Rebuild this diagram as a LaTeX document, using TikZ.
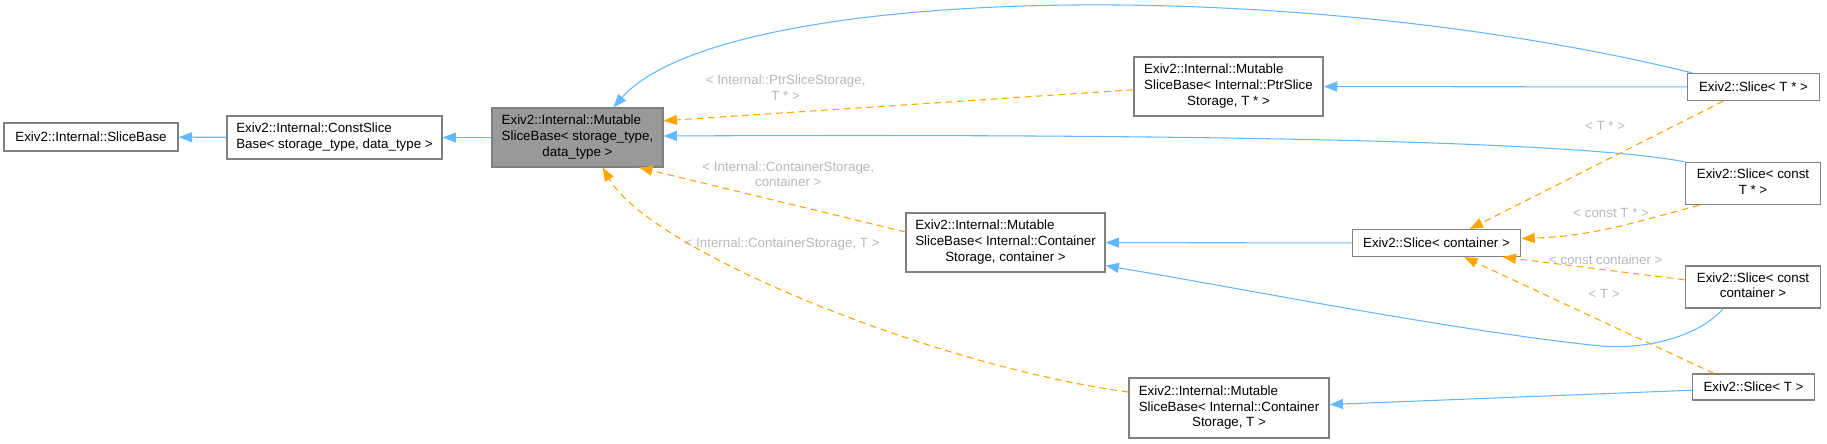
\documentclass[tikz,border=0pt]{standalone}
\usepackage{fontspec}
\setmainfont{Liberation Sans}
\usetikzlibrary{positioning,arrows.meta}
\definecolor{inhblue}{HTML}{63B8FF}
\definecolor{tplorange}{HTML}{FFA500}
\definecolor{tplgray}{HTML}{B8B8B8}
\definecolor{boxgray}{HTML}{808080}
\definecolor{hlgray}{HTML}{999999}
\newcommand{\lastrow}[1]{\multicolumn{1}{@{}c@{}}{#1}}

\begin{document}
\begin{tikzpicture}[x=0.75pt, y=-0.75pt,
font=\fontsize{10}{11.75}\selectfont,
box/.style = {draw=boxgray, line width=1.1pt, fill=white, inner sep=1pt},
hl/.style = {box, fill=hlgray},
inh/.style = {draw=inhblue, line width=0.8pt, -{Triangle[length=10pt,width=7.5pt]}},
tpl/.style = {inh, draw=tplorange, dash pattern=on 5pt off 3.5pt},
lbl/.style = {text=tplgray, inner sep=1pt, align=center}]
\useasboundingbox (0,0) rectangle (1827,443);

% base classes
\node[box, minimum width=130.5pt, minimum height=21pt] (sliceb) at (91,137) {Exiv2::Internal::SliceBase};
\node[box, minimum width=161pt, minimum height=32pt] (constb) at (334.5,137.5) {\begin{tabular}{@{}l@{}}Exiv2::Internal::ConstSlice\\Base< storage\_type, data\_type >\end{tabular}};
\node[hl, minimum width=128pt, minimum height=44pt] (mut) at (577.5,137.5) {\begin{tabular}{@{}l@{}}Exiv2::Internal::Mutable\\SliceBase< storage\_type,\\\lastrow{data\_type >}\end{tabular}};

% template instances of the mutable base
\node[box, minimum width=142pt, minimum height=44pt] (ptr) at (1228.5,86.5) {\begin{tabular}{@{}l@{}}Exiv2::Internal::Mutable\\SliceBase< Internal::PtrSlice\\\lastrow{Storage, T * >}\end{tabular}};
\node[box, minimum width=149pt, minimum height=44pt] (mutCc) at (1005.5,242.5) {\begin{tabular}{@{}l@{}}Exiv2::Internal::Mutable\\SliceBase< Internal::Container\\\lastrow{Storage, container >}\end{tabular}};
\node[box, minimum width=150pt, minimum height=45pt] (mutCT) at (1229,408) {\begin{tabular}{@{}l@{}}Exiv2::Internal::Mutable\\SliceBase< Internal::Container\\\lastrow{Storage, T >}\end{tabular}};

% slices
\node[box, minimum width=99pt, minimum height=20pt] (sliceTp) at (1753.5,87) {Exiv2::Slice< T * >};
\node[box, minimum width=101.6pt, minimum height=31.5pt] (sliceCTp) at (1753,183.5) {\begin{tabular}{@{}l@{}}Exiv2::Slice< const\\\lastrow{T * >}\end{tabular}};
\node[box, minimum width=126.3pt, minimum height=20pt] (sliceC) at (1436.5,243) {Exiv2::Slice< container >};
\node[box, minimum width=101.6pt, minimum height=31.5pt] (sliceCc) at (1753,287) {\begin{tabular}{@{}l@{}}Exiv2::Slice< const\\\lastrow{container >}\end{tabular}};
\node[box, minimum width=91.5pt, minimum height=19.5pt] (sliceT) at (1753.5,387) {Exiv2::Slice< T >};

% inheritance
\draw[inh] (constb) to (sliceb);
\draw[inh] (mut) to (constb);
\draw[inh] (sliceTp.167) .. controls (1280,-28) and (720,-14) .. (mut.40);
\draw[inh] (sliceCTp.north west) .. controls (1560,138) and (1100,134) .. (mut.1);
\draw[inh] (sliceTp) to (ptr);
\draw[inh] (sliceC) to (mutCc);
\draw[inh] (sliceCc.-144) .. controls (1700,335) and (1650,350) .. (1600,346) .. controls (1450,330) and (1250,290) .. (mutCc.-13);
\draw[inh] (sliceT.183) to (mutCT.2);

% template arguments
\draw[tpl] (ptr.182) to node[lbl, pos=0.74, above=8pt] {< Internal::PtrSliceStorage,\\T * >} (mut.11);
\draw[tpl] (mutCc.174) to node[lbl, pos=0.44, above=11pt] {< Internal::ContainerStorage,\\container >} (mut.-26);
\draw[tpl] (mutCT.171) .. controls (930,365) and (650,250) .. node[lbl, pos=0.545, above=28pt] {< Internal::ContainerStorage, T >} (mut.-50);
\draw[tpl] (sliceTp.205) to node[lbl, pos=0.466, above=21pt] {< T * >} (sliceC.23);
\draw[tpl] (sliceCTp.202) to[out=195, in=2] node[lbl, above=6pt] {< const T * >} (sliceC.3);
\draw[tpl] (sliceCc.174) to node[lbl, pos=0.433, above=2.5pt] {< const container >} (sliceC.-12);
\draw[tpl] (sliceT.161) to node[lbl, pos=0.439, above=16.5pt] {< T >} (sliceC.-27);
\end{tikzpicture}
\end{document}
